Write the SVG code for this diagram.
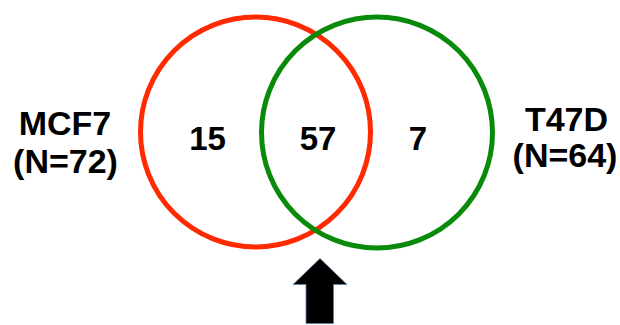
<svg xmlns="http://www.w3.org/2000/svg" width="620" height="325" viewBox="0 0 620 325">
<style>
.lbl{font-family:"Liberation Sans",Arial,sans-serif;font-weight:bold;fill:#000;text-anchor:middle}
.side{font-size:34px}
.num{font-size:33px}
.set{fill:none;stroke-width:5}
</style>
<rect width="620" height="325" fill="#fff"/>
<g id="mcf7">
<circle class="set" cx="255.5" cy="132" r="115" stroke="#ff2a00"/>
<text class="lbl side" x="65" y="135">MCF7</text>
<text class="lbl side" x="65.5" y="173">(N=72)</text>
</g>
<g id="t47d">
<circle class="set" cx="377" cy="132.5" r="115.5" stroke="#0a8a0a"/>
<text class="lbl side" x="566.5" y="131">T47D</text>
<text class="lbl side" x="565" y="167">(N=64)</text>
</g>
<g id="counts">
<text class="lbl num" x="207.5" y="150">15</text>
<text class="lbl num" x="318" y="150">57</text>
<text class="lbl num" x="418" y="150">7</text>
</g>
<g id="arrow">
<polygon points="320,258.5 347,284.5 333.5,284.5 333.5,323.5 306,323.5 306,284.5 293,284.5" fill="#000" stroke="#5a7fa8" stroke-width="0.8"/>
</g>
</svg>
